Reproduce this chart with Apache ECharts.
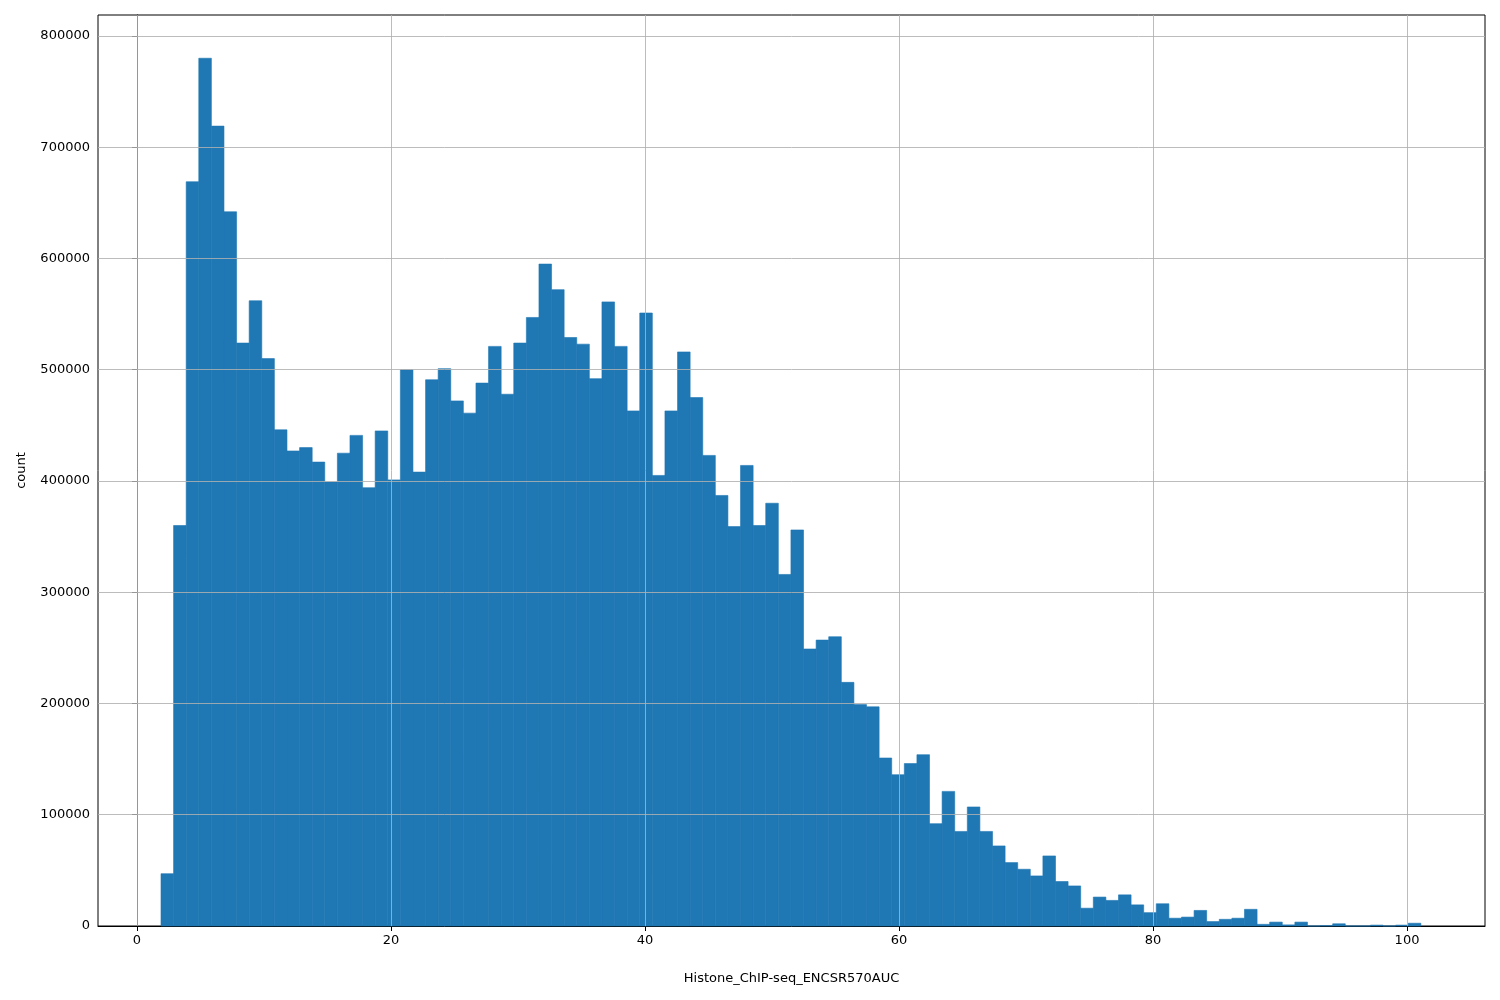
<html>
<head>
    <meta charset="utf-8">
    <title>Histone_ChIP-seq_ENCSR570AUC</title>
    <script src="https://cdn.jsdelivr.net/npm/echarts@6/dist/echarts.min.js"></script>
    <style>body{margin:0;background:#fff}</style>
</head>
<body>
    <div id="main" style="width: 1500px;height:1000px;"></div>
</body>
<script type="text/javascript">
    // histogram bins: first edge, bin width, counts
    var binStart = 1.89;
    var binWidth = 0.992;
    var counts = [
        47000, 360000, 669000, 780000, 719000, 642000, 524000, 562000, 510000, 446000,
        427000, 430000, 417000, 399000, 425000, 441000, 394000, 445000, 401000, 500000,
        408000, 491000, 501000, 472000, 461000, 488000, 521000, 478000, 524000, 547000,
        595000, 572000, 529000, 523000, 492000, 561000, 521000, 463000, 551000, 405000,
        463000, 516000, 475000, 423000, 387000, 359000, 414000, 360000, 380000, 316000,
        356000, 249000, 257000, 260000, 219000, 199000, 197000, 151000, 136000, 146000,
        154000, 92000, 121000, 85000, 107000, 85000, 72000, 57000, 51000, 45000,
        63000, 40000, 36000, 16000, 26000, 23000, 28000, 19000, 12000, 20000,
        7000, 8000, 14000, 4000, 6000, 7000, 15000, 1500, 3500, 1000,
        3500, 0, 300, 2000, 0, 0, 800, 0, 800, 2500
    ];
    var xTicks = [0, 20, 40, 60, 80, 100];
    var yTicks = [0, 100000, 200000, 300000, 400000, 500000, 600000, 700000, 800000];

    var bins = counts.map(function (c, i) {
        return [binStart + i * binWidth, binStart + (i + 1) * binWidth, c];
    });

    var gridLine = { color: 'rgba(176,176,176,0.85)', width: 1, type: 'solid' };
    var marks = xTicks.map(function (v) { return { xAxis: v }; })
        .concat(yTicks.slice(1).map(function (v) { return { yAxis: v }; }));

    var myChart = echarts.init(document.getElementById('main'));
    var option = {
        animation: false,
        textStyle: { fontFamily: 'DejaVu Sans' },
        grid: { left: 98, right: 15, top: 15, bottom: 74, show: true, borderColor: '#000', borderWidth: 1 },
        xAxis: {
            type: 'value', min: -3.07, max: 106.14,
            name: 'Histone_ChIP-seq_ENCSR570AUC', nameLocation: 'middle', nameGap: 46,
            nameTextStyle: { fontSize: 13, color: '#000' },
            axisLine: { show: true, lineStyle: { color: '#000' } },
            axisTick: { show: true, inside: false, length: 5, lineStyle: { color: '#000' }, customValues: xTicks },
            axisLabel: { fontSize: 13, color: '#000', margin: 8, customValues: xTicks,
                formatter: function (v) { return String(v); } },
            splitLine: { show: false }
        },
        yAxis: {
            type: 'value', min: 0, max: 818876,
            name: 'count', nameLocation: 'middle', nameGap: 70,
            nameTextStyle: { fontSize: 13, color: '#000' },
            axisLine: { show: true, lineStyle: { color: '#000' } },
            axisTick: { show: true, inside: false, length: 5, lineStyle: { color: '#000' }, customValues: yTicks },
            axisLabel: { fontSize: 13, color: '#000', margin: 8, customValues: yTicks,
                formatter: function (v) { return String(v); } },
            splitLine: { show: false }
        },
        series: [{
            type: 'custom',
            data: bins,
            renderItem: function (params, api) {
                var p0 = api.coord([api.value(0), api.value(2)]);
                var p1 = api.coord([api.value(1), 0]);
                return {
                    type: 'rect',
                    shape: { x: p0[0], y: p0[1], width: p1[0] - p0[0], height: p1[1] - p0[1] },
                    style: { fill: '#1f77b4', stroke: '#1f77b4', lineWidth: 0.6 }
                };
            },
            encode: { x: [0, 1], y: 2 },
            markLine: {
                silent: true, symbol: 'none', label: { show: false },
                lineStyle: gridLine, data: marks
            }
        }]
    };
    myChart.setOption(option);
</script>
</html>
